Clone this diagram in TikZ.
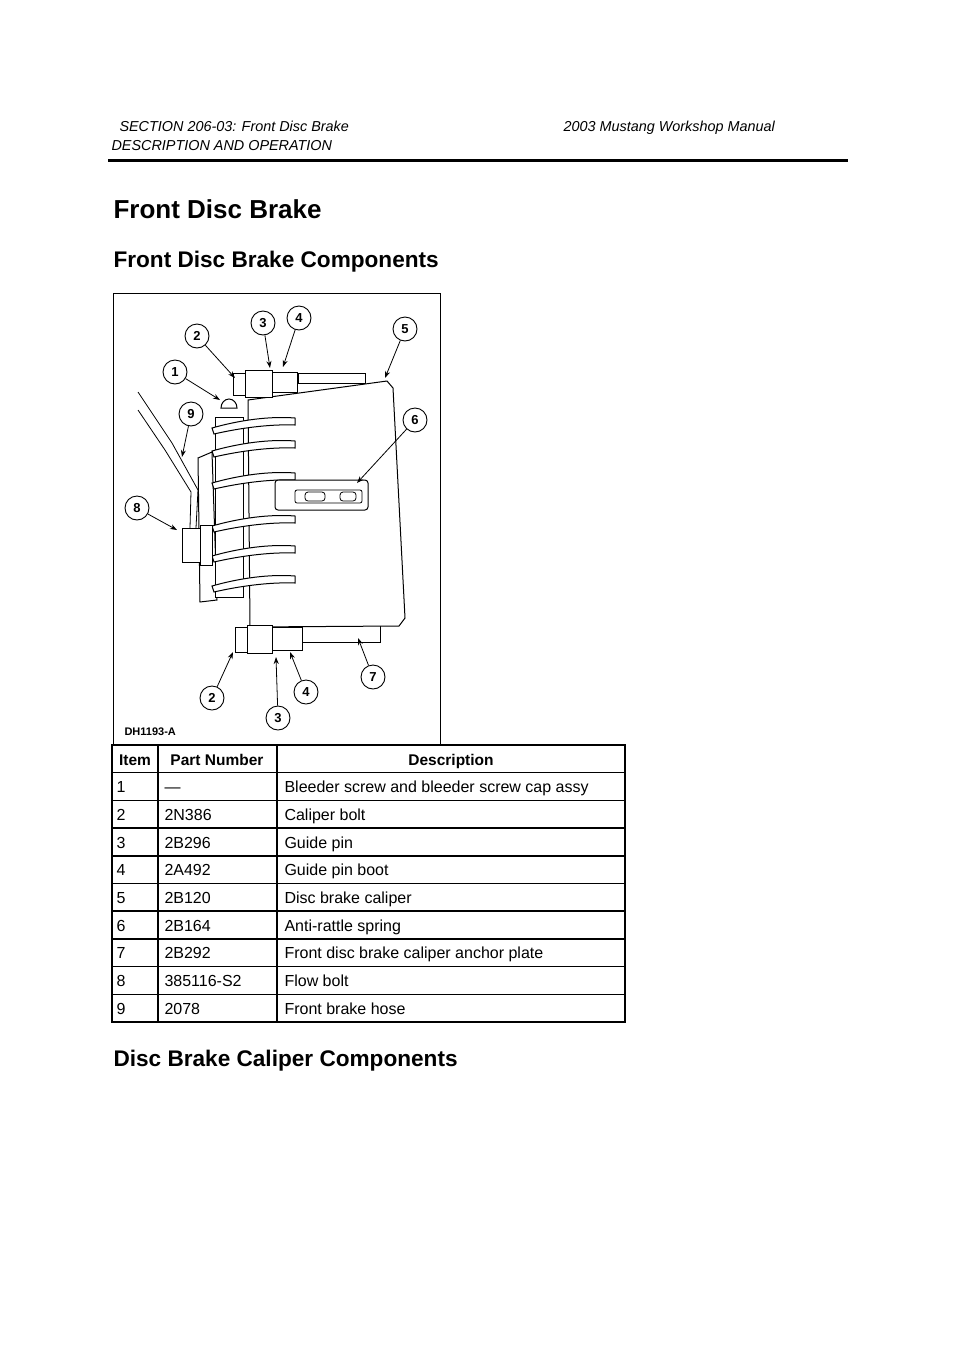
\documentclass[tikz,border=0pt]{standalone}
\usepackage{fontspec}
\setmainfont{Liberation Sans}
\usetikzlibrary{arrows.meta}
\begin{document}
\begin{tikzpicture}[x=1pt,y=-1pt,
  hdr/.style={anchor=base west,font=\itshape\fontsize{14.4}{16}\selectfont},
  callout/.style={circle,draw,line width=0.9pt,minimum size=24pt,inner sep=0pt,font=\bfseries\fontsize{13}{13}\selectfont},
  lead/.style={line width=0.8pt,-{Stealth[length=7pt,width=5pt]}},
  part/.style={draw,line width=1pt,fill=white},
  cell/.style={anchor=base west,font=\fontsize{16}{18}\selectfont},
  hcell/.style={anchor=base,font=\bfseries\fontsize{15.5}{18}\selectfont}]
\useasboundingbox (0,0) rectangle (960,1358);
\node[hdr] (h1) at (116,131) {SECTION 206-03: Front Disc Brake};
\node[hdr] (h2) at (560,131) {2003 Mustang Workshop Manual};
\node[hdr] (h3) at (108,150) {DESCRIPTION AND OPERATION};
\draw[line width=3pt] (108,160) -- (848,160);
\node[anchor=base west,font=\bfseries\fontsize{26}{28}\selectfont] (t1) at (110,218) {Front Disc Brake};
\node[anchor=base west,font=\bfseries\fontsize{22.6}{24}\selectfont] (t2) at (110,267) {Front Disc Brake Components};
\node[anchor=base west,font=\bfseries\fontsize{22.6}{24}\selectfont] (t3) at (110,1066) {Disc Brake Caliper Components};
% figure frame
\draw[line width=1pt] (113,293) rectangle (440,745);
% caliper drawing
\draw[part] (298,373) rectangle (365,383);
\draw[part] (302,625) rectangle (380,642);
\draw[part] (248,400) -- (387,381) -- (393,388) -- (405,618) -- (399,626) -- (250,627) -- cycle;
\draw[part] (198,458) -- (212,452) -- (217,600) -- (200,602) -- cycle;
\draw[part] (215,417) rectangle (243,597);
\foreach \yy in {422,445,477,520,550,580}{
  \draw[part] (212,\yy+6) .. controls (240,\yy-2) and (270,\yy-6) .. (295,\yy-4) -- (295,\yy+3) .. controls (270,\yy+2) and (240,\yy+6) .. (214,\yy+12) -- cycle;}
\draw[part] (233,373) rectangle (245,395);
\draw[part] (245,370) rectangle (272,397);
\draw[part] (272,372) rectangle (297,392);
\draw[part] (221,408) arc (180:360:8 and 9) -- cycle;
\draw[part] (235,627) rectangle (247,652);
\draw[part] (247,625) rectangle (272,653);
\draw[part] (272,627) rectangle (302,650);
\draw[part,rounded corners=3pt] (275,480) rectangle (368,510);
\draw[line width=0.8pt,rounded corners=2pt] (295,490) rectangle (362,503);
\draw[line width=0.8pt,rounded corners=3pt] (305,492) rectangle (325,501) (340,492) rectangle (356,501);
\draw[line width=0.8pt] (138,392) -- (172,443) -- (198,490) -- (196,528);
\draw[line width=0.8pt] (138,410) -- (165,450) -- (191,492) -- (190,528);
\draw[part] (182,528) rectangle (200,562);
\draw[part] (200,525) rectangle (212,565);
% callouts
\node[callout] (c1) at (175,372) {1};
\node[callout] (c2a) at (197,336) {2};
\node[callout] (c3a) at (263,323) {3};
\node[callout] (c4a) at (299,318) {4};
\node[callout] (c5) at (405,329) {5};
\node[callout] (c6) at (415,420) {6};
\node[callout] (c9) at (191,414) {9};
\node[callout] (c8) at (137,508) {8};
\node[callout] (c2b) at (212,698) {2};
\node[callout] (c3b) at (278,718) {3};
\node[callout] (c4b) at (306,692) {4};
\node[callout] (c7) at (373,677) {7};
\coordinate (p1) at (220,400); \coordinate (p2a) at (235,378);
\coordinate (p3a) at (270,368); \coordinate (p4a) at (283,367);
\coordinate (p5) at (385,378); \coordinate (p6) at (357,483);
\coordinate (p9) at (182,457); \coordinate (p8) at (177,530);
\coordinate (p2b) at (233,652); \coordinate (p3b) at (276,657);
\coordinate (p4b) at (290,652); \coordinate (p7) at (358,638);
\foreach \c/\p in {c1/p1,c2a/p2a,c3a/p3a,c4a/p4a,c5/p5,c6/p6,c9/p9,c8/p8,c2b/p2b,c3b/p3b,c4b/p4b,c7/p7}
  \draw[lead] (\c) -- (\p);
\node[anchor=base west,font=\bfseries\fontsize{11}{11}\selectfont] (dh) at (121,735) {DH1193-A};
% table
\foreach \i in {0,...,9}{
  \pgfmathsetmacro{\yt}{745+\i*27.7}
  \draw[line width=1.5pt] (112,\yt) rectangle (625,\yt+27.7);}
\draw[line width=1.5pt] (158,745) -- (158,1022) (277,745) -- (277,1022);
\node[hcell] (hi) at (135,765) {Item};
\node[hcell] (hp) at (217,765) {Part Number};
\node[hcell] (hd) at (451,765) {Description};
\foreach \i/\a/\b/\c in {1/1/—/Bleeder screw and bleeder screw cap assy,2/2/2N386/Caliper bolt,3/3/2B296/Guide pin,4/4/2A492/Guide pin boot,5/5/2B120/Disc brake caliper,6/6/2B164/Anti-rattle spring,7/7/2B292/Front disc brake caliper anchor plate,8/8/385116-S2/Flow bolt,9/9/2078/Front brake hose}{
  \pgfmathsetmacro{\yb}{765+\i*27.7}
  \node[cell] (ra\i) at (113,\yb) {\a};
  \node[cell] (rb\i) at (161,\yb) {\b};
  \node[cell] (rc\i) at (281,\yb) {\c};}
\end{tikzpicture}
\end{document}
